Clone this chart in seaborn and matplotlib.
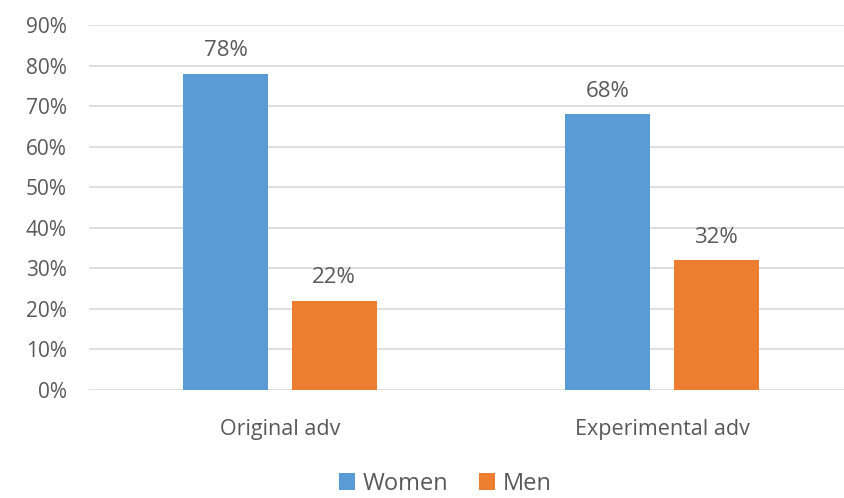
import matplotlib
matplotlib.use("Agg")
import matplotlib.pyplot as plt
import seaborn as sns
import pandas as pd
from matplotlib.ticker import PercentFormatter
from matplotlib.patches import Patch

categories = ["Original adv", "Experimental adv"]
groups = ["Women", "Men"]
women = [0.78, 0.68]
men = [0.22, 0.32]
colors = {"Women": "#5b9bd5", "Men": "#ed7d31"}

df = pd.DataFrame({
    "category": categories * 2,
    "group": ["Women"] * len(categories) + ["Men"] * len(categories),
    "share": women + men,
})

sns.set_theme(style="white")
plt.rcParams["font.family"] = ["Open Sans", "DejaVu Sans"]
text_color = "#595959"

fig = plt.figure(figsize=(8.45, 4.98), dpi=100)
ax = fig.add_axes([89 / 845, 108 / 498, 764 / 845, 365 / 498])

sns.barplot(data=df, x="category", y="share", hue="group", order=categories,
            hue_order=groups, palette=colors, width=0.566, gap=0.214,
            saturation=1, linewidth=0, ax=ax, legend=False)

ax.set_ylim(0, 0.9)
ax.set_xlim(-0.5, 1.5)
ax.set_yticks([i / 10 for i in range(10)])
ax.yaxis.set_major_formatter(PercentFormatter(1.0, decimals=0))
ax.yaxis.grid(True, color="#d9d9d9", linewidth=1.2)
ax.set_axisbelow(True)
for s in ax.spines.values():
    s.set_visible(False)
ax.set_xlabel("")
ax.set_ylabel("")
ax.tick_params(axis="y", labelsize=15, colors=text_color, pad=16, length=0)
ax.tick_params(axis="x", labelsize=15.5, colors=text_color, pad=21, length=0)

for container in ax.containers:
    ax.bar_label(container, labels=[f"{v * 100:.0f}%" for v in container.datavalues],
                 padding=9, fontsize=16, color=text_color)

handles = [Patch(facecolor=colors[g], edgecolor="none") for g in groups]
fig.legend(handles, groups, loc="center", bbox_to_anchor=(445 / 845, 1 - 484 / 498),
           ncol=2, frameon=False, fontsize=17, handlelength=0.7, handleheight=0.7,
           handletextpad=0.3, columnspacing=1.3, labelcolor=text_color)

fig.savefig("out.png", dpi=100)
